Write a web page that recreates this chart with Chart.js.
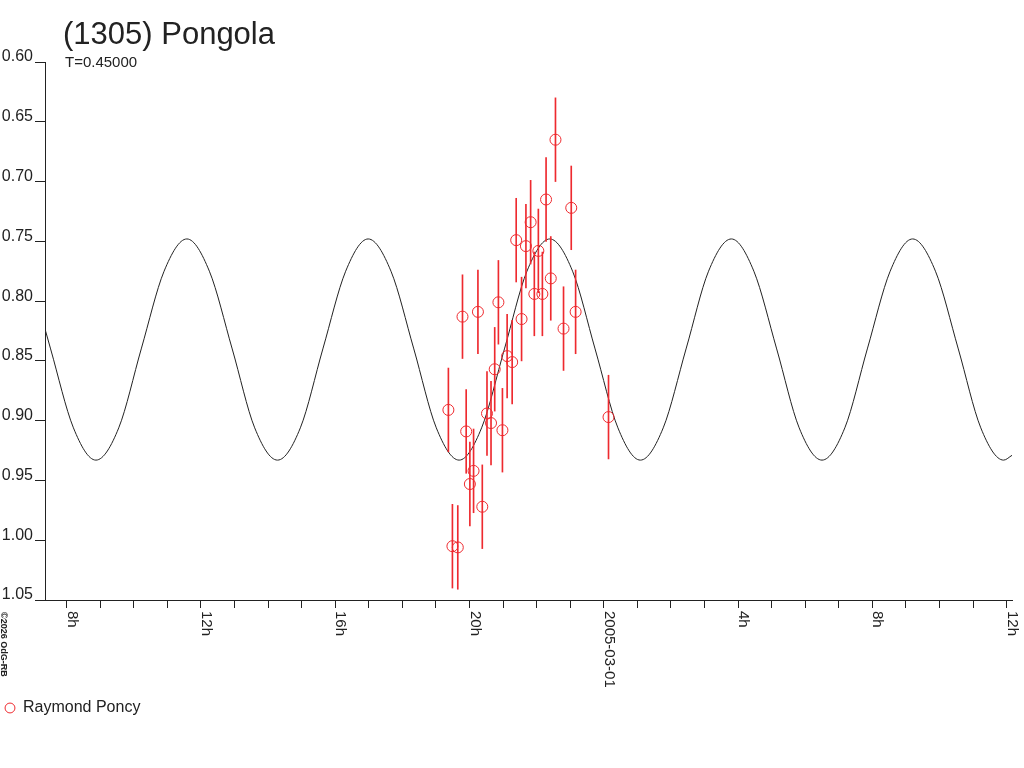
<!DOCTYPE html>
<html>
<head>
<meta charset="utf-8">
<title>(1305) Pongola</title>
<script src="https://cdn.jsdelivr.net/npm/chart.js@4.4.1/dist/chart.umd.min.js"></script>
<style>
  html, body { margin: 0; padding: 0; background: #fff; }
  #wrap { width: 1024px; height: 768px; }
</style>
</head>
<body>
<div id="wrap"><canvas id="lightcurve" width="1024" height="768"></canvas></div>
<script>
const objectName = '(1305) Pongola';
const subtitleText = 'T=0.45000';
const observerName = 'Raymond Poncy';
const creditText = '©2026 OdG-RB';

// time in hours counted from 2005-02-28 00:00 UT
const obsHours = [19.37, 19.49, 19.65, 19.79, 19.90, 20.01, 20.12, 20.25, 20.38, 20.52,
                  20.64, 20.75, 20.86, 20.98, 21.12, 21.27, 21.39, 21.55, 21.68, 21.82,
                  21.93, 22.05, 22.17, 22.28, 22.42, 22.56, 22.80, 23.03, 23.16, 24.14];
const obsMags = [0.891, 1.005, 1.006, 0.813, 0.909, 0.953, 0.942, 0.809, 0.972, 0.894,
                 0.902, 0.857, 0.801, 0.908, 0.846, 0.851, 0.749, 0.815, 0.754, 0.734,
                 0.794, 0.758, 0.794, 0.715, 0.781, 0.665, 0.823, 0.722, 0.809, 0.897];
const magError = 0.035;

// fitted curve
const curveHours = [7.35, 7.52, 8.20, 8.87, 9.55, 10.22, 10.90, 11.58, 12.25, 12.93,
                    13.60, 14.28, 14.96, 15.63, 16.31, 16.98, 17.66, 18.34, 19.01, 19.69,
                    20.36, 21.04, 21.71, 22.39, 23.07, 23.74, 24.42, 25.09, 25.77, 26.45,
                    27.12, 27.80, 28.47, 29.15, 29.82, 30.50, 31.18, 31.85, 32.53, 33.20,
                    33.88, 34.56, 35.23, 35.91, 36.16];
const curveMags = [0.823, 0.840, 0.906, 0.933, 0.906, 0.840, 0.775, 0.748, 0.775, 0.840,
                   0.906, 0.933, 0.906, 0.840, 0.775, 0.748, 0.775, 0.840, 0.906, 0.933,
                   0.906, 0.840, 0.775, 0.748, 0.775, 0.840, 0.906, 0.933, 0.906, 0.840,
                   0.775, 0.748, 0.775, 0.840, 0.906, 0.933, 0.906, 0.840, 0.775, 0.748,
                   0.775, 0.840, 0.906, 0.933, 0.929];

const hourTicks = [8, 12, 16, 20, 24, 28, 32, 36];
const hourLabels = ['8h', '12h', '16h', '20h', '2005-03-01', '4h', '8h', '12h'];

const FONT = '"Liberation Sans", Arial, sans-serif';
const INK = '#222';
const RED = '#ee2a2f';

// texts that Chart.js can't place like the original (title block, downward labels)
const overlay = {
  id: 'overlay',
  afterDraw(chart) {
    const ctx = chart.ctx;
    const xs = chart.scales.x;
    ctx.save();
    ctx.fillStyle = INK;
    ctx.textAlign = 'left';
    ctx.textBaseline = 'alphabetic';
    ctx.font = '31px ' + FONT;
    ctx.fillText(objectName, 63, 44);
    ctx.font = '15px ' + FONT;
    ctx.fillText(subtitleText, 65, 67);

    ctx.font = '15px ' + FONT;
    hourTicks.forEach((h, i) => {
      ctx.save();
      ctx.translate(xs.getPixelForValue(h) + 1, xs.top + 11);
      ctx.rotate(Math.PI / 2);
      ctx.fillText(hourLabels[i], 0, 0);
      ctx.restore();
    });

    ctx.font = 'bold 9px ' + FONT;
    ctx.translate(1, 612);
    ctx.rotate(Math.PI / 2);
    ctx.fillText(creditText, 0, 0);
    ctx.restore();
  }
};

const ctx = document.getElementById('lightcurve').getContext('2d');
const chart = new Chart(ctx, {
  type: 'scatter',
  data: {
    datasets: [{
      type: 'scatter',
      label: observerName,
      data: obsHours.map((h, i) => ({ x: h, y: obsMags[i] })),
      pointStyle: 'circle',
      pointRadius: 5.5,
      borderColor: RED,
      backgroundColor: 'rgba(0,0,0,0)',
      borderWidth: 1
    }, {
      type: 'bar',
      label: 'error',
      data: obsHours.map((h, i) => ({ x: h, y: [obsMags[i] - magError, obsMags[i] + magError] })),
      backgroundColor: RED,
      borderWidth: 0,
      barThickness: 1
    }, {
      type: 'line',
      label: 'fit',
      data: curveHours.map((h, i) => ({ x: h, y: curveMags[i] })),
      borderColor: INK,
      borderWidth: 1,
      pointRadius: 0,
      fill: false,
      cubicInterpolationMode: 'monotone'
    }]
  },
  options: {
    responsive: false,
    devicePixelRatio: 1,
    animation: false,
    events: [],
    layout: { padding: { left: 0, top: 62, right: 12, bottom: 42 } },
    plugins: {
      tooltip: { enabled: false },
      legend: {
        display: true,
        position: 'bottom',
        align: 'start',
        labels: {
          usePointStyle: true,
          boxWidth: 10,
          boxHeight: 7,
          padding: 5,
          color: INK,
          font: { family: FONT, size: 16 },
          filter: item => item.datasetIndex === 0
        }
      }
    },
    scales: {
      x: {
        type: 'linear',
        min: 7.353,
        max: 36.16,
        offset: false,
        border: { color: INK, width: 1 },
        grid: { drawOnChartArea: false, drawTicks: true, tickLength: 8, color: INK, offset: false },
        ticks: {
          stepSize: 1,
          includeBounds: false,
          autoSkip: false,
          maxRotation: 0,
          maxTicksLimit: 100,
          callback: () => ''
        },
        afterFit: scale => { scale.height = 95; }
      },
      y: {
        type: 'linear',
        reverse: true,
        min: 0.60,
        max: 1.05,
        border: { color: INK, width: 1 },
        grid: { drawOnChartArea: false, drawTicks: true, tickLength: 10, color: INK },
        ticks: {
          stepSize: 0.05,
          align: 'end',
          labelOffset: 3,
          padding: 2,
          color: INK,
          font: { family: FONT, size: 16 },
          callback: v => v.toFixed(2)
        },
        afterFit: scale => { scale.width = 45; }
      }
    }
  },
  plugins: [overlay]
});
</script>
</body>
</html>
